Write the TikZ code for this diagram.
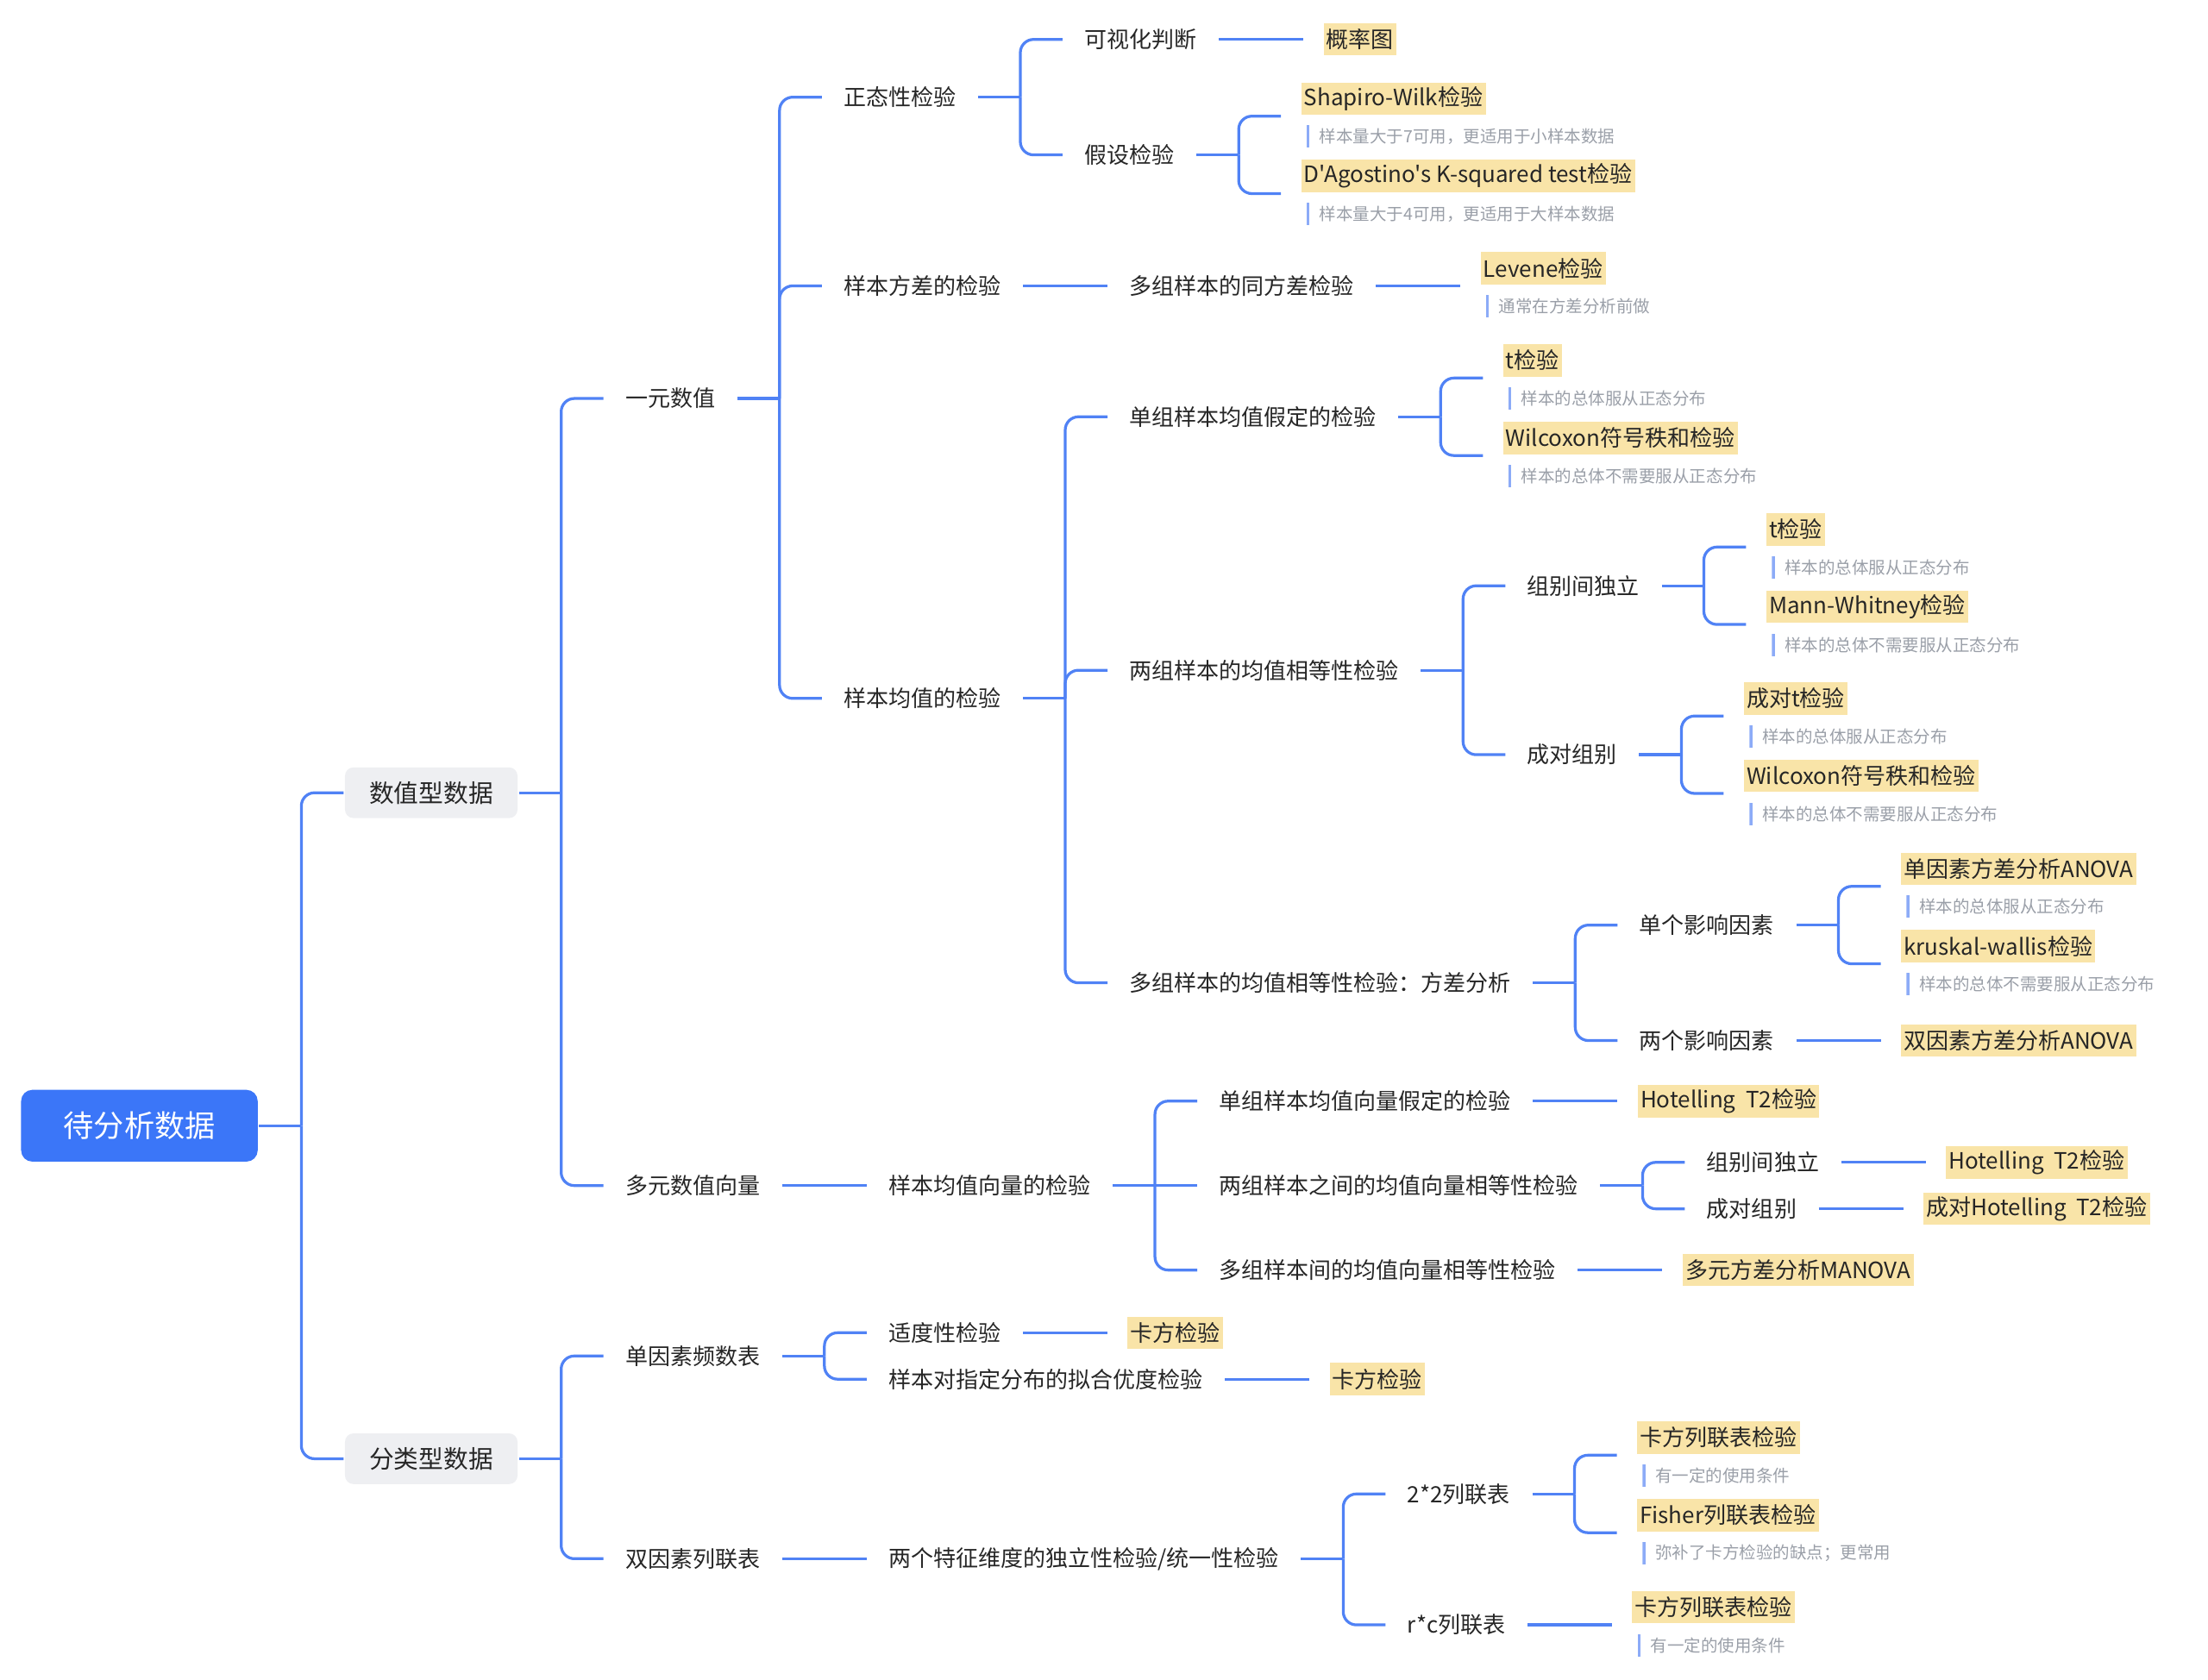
\documentclass[tikz,border=0pt]{standalone}
\usepackage{fontspec}
\setmainfont{Noto Sans CJK SC}[Ligatures=TeXOff]
\usetikzlibrary{positioning}
\definecolor{cmain}{HTML}{3B76F8}
\definecolor{cline}{HTML}{5082F5}
\definecolor{cgreybox}{HTML}{EEEFF2}
\definecolor{cmark}{HTML}{F9E4A8}
\definecolor{ctext}{HTML}{262626}
\definecolor{cnote}{HTML}{9A9FA8}
\definecolor{cbar}{HTML}{8CABF7}
\tikzset{
  every picture/.style={line width=1.7pt},
  rootbox/.style={fill=cmain, text=white, rounded corners=0.24cm, minimum width=5.04cm, minimum height=1.53cm, font=\fontsize{18.4}{22}\selectfont},
  groupbox/.style={fill=cgreybox, text=ctext, rounded corners=0.18cm, inner xsep=0.52cm, minimum height=1.08cm, font=\fontsize{15}{18}\selectfont},
  topic/.style={text=ctext, inner xsep=0pt, inner ysep=2pt, outer xsep=0.47cm, font=\fontsize{13.6}{16}\selectfont},
  method/.style={topic, fill=cmark, inner xsep=0.06cm, inner ysep=0pt, outer xsep=0.43cm, minimum height=0.69cm},
  remark/.style={anchor=north west, text=cnote, inner xsep=0.27cm, inner ysep=0pt, minimum height=0.48cm, font=\fontsize{10.2}{12}\selectfont,
    path picture={\fill[cbar] (path picture bounding box.north west) rectangle ([xshift=0.06cm]path picture bounding box.south west);}},
  link/.style={draw=cline, rounded corners=8pt},
}

\begin{document}
\begin{tikzpicture}
  \useasboundingbox (0,0) rectangle (47.04,-35.79);
  \node[rootbox] (root) at (2.97,-23.985) {待分析数据};
  \node[groupbox, right=1.8cm of root, yshift=7.095cm] (num) {数值型数据};
  \node[groupbox, right=1.8cm of root, yshift=-7.095cm] (cat) {分类型数据};

  % numeric data
  \node[topic, right=1.8cm of num, yshift=8.4cm] (uni) {一元数值};
  \node[topic, right=1.8cm of num, yshift=-8.37cm] (multi) {多元数值向量};

  \node[topic, right=1.8cm of uni, yshift=6.42cm] (norm) {正态性检验};
  \node[topic, right=1.8cm of uni, yshift=2.4cm] (var) {样本方差的检验};
  \node[topic, right=1.8cm of uni, yshift=-6.39cm] (mean) {样本均值的检验};

  \node[topic, right=1.8cm of norm, yshift=1.23cm] (vis) {可视化判断};
  \node[topic, right=1.8cm of norm, yshift=-1.23cm] (hyp) {假设检验};
  \node[method, right=1.8cm of vis] (prob) {概率图};
  \node[method, right=1.8cm of hyp, yshift=0.825cm, anchor=south west] (sw) {Shapiro-Wilk检验};
  \node[remark] (swn) at ([xshift=0.52cm, yshift=-0.165cm]sw.south west) {样本量大于7可用，更适用于小样本数据};
  \node[method, right=1.8cm of hyp, yshift=-0.825cm, anchor=south west] (dag) {D'Agostino's K-squared test检验};
  \node[remark] (dagn) at ([xshift=0.52cm, yshift=-0.165cm]dag.south west) {样本量大于4可用，更适用于大样本数据};

  \node[topic, right=1.8cm of var] (mvar) {多组样本的同方差检验};
  \node[method, right=1.8cm of mvar, anchor=south west] (lev) {Levene检验};
  \node[remark] (levn) at ([xshift=0.52cm, yshift=-0.165cm]lev.south west) {通常在方差分析前做};

  \node[topic, right=1.8cm of mean, yshift=6cm] (one) {单组样本均值假定的检验};
  \node[topic, right=1.8cm of mean, yshift=0.6cm] (two) {两组样本的均值相等性检验};
  \node[topic, right=1.8cm of mean, yshift=-6.06cm] (many) {多组样本的均值相等性检验：方差分析};

  \node[method, right=1.8cm of one, yshift=0.825cm, anchor=south west] (ta) {t检验};
  \node[remark] (tan) at ([xshift=0.52cm, yshift=-0.165cm]ta.south west) {样本的总体服从正态分布};
  \node[method, right=1.8cm of one, yshift=-0.825cm, anchor=south west] (wa) {Wilcoxon符号秩和检验};
  \node[remark] (wan) at ([xshift=0.52cm, yshift=-0.165cm]wa.south west) {样本的总体不需要服从正态分布};

  \node[topic, right=1.8cm of two, yshift=1.8cm] (ind) {组别间独立};
  \node[topic, right=1.8cm of two, yshift=-1.8cm] (pair) {成对组别};
  \node[method, right=1.8cm of ind, yshift=0.825cm, anchor=south west] (tb) {t检验};
  \node[remark] (tbn) at ([xshift=0.52cm, yshift=-0.165cm]tb.south west) {样本的总体服从正态分布};
  \node[method, right=1.8cm of ind, yshift=-0.825cm, anchor=south west] (mw) {Mann-Whitney检验};
  \node[remark] (mwn) at ([xshift=0.52cm, yshift=-0.165cm]mw.south west) {样本的总体不需要服从正态分布};
  \node[method, right=1.8cm of pair, yshift=0.825cm, anchor=south west] (pt) {成对t检验};
  \node[remark] (ptn) at ([xshift=0.52cm, yshift=-0.165cm]pt.south west) {样本的总体服从正态分布};
  \node[method, right=1.8cm of pair, yshift=-0.825cm, anchor=south west] (wb) {Wilcoxon符号秩和检验};
  \node[remark] (wbn) at ([xshift=0.52cm, yshift=-0.165cm]wb.south west) {样本的总体不需要服从正态分布};

  \node[topic, right=1.8cm of many, yshift=1.23cm] (single) {单个影响因素};
  \node[topic, right=1.8cm of many, yshift=-1.23cm] (double) {两个影响因素};
  \node[method, right=1.8cm of single, yshift=0.825cm, anchor=south west] (anoa) {单因素方差分析ANOVA};
  \node[remark] (anoan) at ([xshift=0.52cm, yshift=-0.165cm]anoa.south west) {样本的总体服从正态分布};
  \node[method, right=1.8cm of single, yshift=-0.825cm, anchor=south west] (kw) {kruskal-wallis检验};
  \node[remark] (kwn) at ([xshift=0.52cm, yshift=-0.165cm]kw.south west) {样本的总体不需要服从正态分布};
  \node[method, right=1.8cm of double] (anob) {双因素方差分析ANOVA};

  \node[topic, right=1.8cm of multi] (mvt) {样本均值向量的检验};
  \node[topic, right=1.8cm of mvt, yshift=1.8cm] (vone) {单组样本均值向量假定的检验};
  \node[topic, right=1.8cm of mvt] (vtwo) {两组样本之间的均值向量相等性检验};
  \node[topic, right=1.8cm of mvt, yshift=-1.8cm] (vmany) {多组样本间的均值向量相等性检验};
  \node[method, right=1.8cm of vone] (hota) {Hotelling\ \ T2检验};
  \node[topic, right=1.8cm of vtwo, yshift=0.495cm] (vind) {组别间独立};
  \node[topic, right=1.8cm of vtwo, yshift=-0.495cm] (vpair) {成对组别};
  \node[method, right=1.8cm of vind] (hotb) {Hotelling\ \ T2检验};
  \node[method, right=1.8cm of vpair] (hotc) {成对Hotelling\ \ T2检验};
  \node[method, right=1.8cm of vmany] (manova) {多元方差分析MANOVA};

  % categorical data
  \node[topic, right=1.8cm of cat, yshift=2.19cm] (freq) {单因素频数表};
  \node[topic, right=1.8cm of cat, yshift=-2.13cm] (cont) {双因素列联表};

  \node[topic, right=1.8cm of freq, yshift=0.495cm] (fit) {适度性检验};
  \node[topic, right=1.8cm of freq, yshift=-0.495cm] (gof) {样本对指定分布的拟合优度检验};
  \node[method, right=1.8cm of fit] (chia) {卡方检验};
  \node[method, right=1.8cm of gof] (chib) {卡方检验};

  \node[topic, right=1.8cm of cont] (indep) {两个特征维度的独立性检验/统一性检验};
  \node[topic, right=1.8cm of indep, yshift=1.38cm] (tt) {2*2列联表};
  \node[topic, right=1.8cm of indep, yshift=-1.41cm] (rc) {r*c列联表};
  \node[method, right=1.8cm of tt, yshift=0.825cm, anchor=south west] (cta) {卡方列联表检验};
  \node[remark] (ctan) at ([xshift=0.52cm, yshift=-0.165cm]cta.south west) {有一定的使用条件};
  \node[method, right=1.8cm of tt, yshift=-0.825cm, anchor=south west] (fis) {Fisher列联表检验};
  \node[remark] (fisn) at ([xshift=0.52cm, yshift=-0.165cm]fis.south west) {弥补了卡方检验的缺点；更常用};
  \node[method, right=1.8cm of rc, anchor=south west] (ctb) {卡方列联表检验};
  \node[remark] (ctbn) at ([xshift=0.52cm, yshift=-0.165cm]ctb.south west) {有一定的使用条件};

  % branches
  \draw[link] (root.east) -- ++(0.9,0);
  \foreach \c in {num,cat} \draw[link] ([xshift=0.9cm]root.east) |- (\c.west);
  \draw[link] (num.east) -- ++(0.9,0);
  \foreach \c in {uni,multi} \draw[link] ([xshift=0.9cm]num.east) |- (\c.west);
  \draw[link] (uni.east) -- ++(0.9,0);
  \foreach \c in {norm,var,mean} \draw[link] ([xshift=0.9cm]uni.east) |- (\c.west);
  \draw[link] (norm.east) -- ++(0.9,0);
  \foreach \c in {vis,hyp} \draw[link] ([xshift=0.9cm]norm.east) |- (\c.west);
  \draw[link] (vis.east) -- (prob.west);
  \draw[link] (hyp.east) -- ++(0.9,0);
  \foreach \c in {sw,dag} \draw[link] ([xshift=0.9cm]hyp.east) |- (\c.south west);
  \draw[link] (var.east) -- (mvar.west);
  \draw[link] (mvar.east) -- (lev.south west);
  \draw[link] (mean.east) -- ++(0.9,0);
  \foreach \c in {one,two,many} \draw[link] ([xshift=0.9cm]mean.east) |- (\c.west);
  \draw[link] (one.east) -- ++(0.9,0);
  \foreach \c in {ta,wa} \draw[link] ([xshift=0.9cm]one.east) |- (\c.south west);
  \draw[link] (two.east) -- ++(0.9,0);
  \foreach \c in {ind,pair} \draw[link] ([xshift=0.9cm]two.east) |- (\c.west);
  \draw[link] (ind.east) -- ++(0.9,0);
  \foreach \c in {tb,mw} \draw[link] ([xshift=0.9cm]ind.east) |- (\c.south west);
  \draw[link] (pair.east) -- ++(0.9,0);
  \foreach \c in {pt,wb} \draw[link] ([xshift=0.9cm]pair.east) |- (\c.south west);
  \draw[link] (many.east) -- ++(0.9,0);
  \foreach \c in {single,double} \draw[link] ([xshift=0.9cm]many.east) |- (\c.west);
  \draw[link] (single.east) -- ++(0.9,0);
  \foreach \c in {anoa,kw} \draw[link] ([xshift=0.9cm]single.east) |- (\c.south west);
  \draw[link] (double.east) -- (anob.west);
  \draw[link] (multi.east) -- (mvt.west);
  \draw[link] (mvt.east) -- (vtwo.west);
  \foreach \c in {vone,vmany} \draw[link] ([xshift=0.9cm]mvt.east) |- (\c.west);
  \draw[link] (vone.east) -- (hota.west);
  \draw[link] (vtwo.east) -- ++(0.9,0);
  \foreach \c in {vind,vpair} \draw[link] ([xshift=0.9cm]vtwo.east) |- (\c.west);
  \draw[link] (vind.east) -- (hotb.west);
  \draw[link] (vpair.east) -- (hotc.west);
  \draw[link] (vmany.east) -- (manova.west);
  \draw[link] (cat.east) -- ++(0.9,0);
  \foreach \c in {freq,cont} \draw[link] ([xshift=0.9cm]cat.east) |- (\c.west);
  \draw[link] (freq.east) -- ++(0.9,0);
  \foreach \c in {fit,gof} \draw[link] ([xshift=0.9cm]freq.east) |- (\c.west);
  \draw[link] (fit.east) -- (chia.west);
  \draw[link] (gof.east) -- (chib.west);
  \draw[link] (cont.east) -- (indep.west);
  \draw[link] (indep.east) -- ++(0.9,0);
  \foreach \c in {tt,rc} \draw[link] ([xshift=0.9cm]indep.east) |- (\c.west);
  \draw[link] (tt.east) -- ++(0.9,0);
  \foreach \c in {cta,fis} \draw[link] ([xshift=0.9cm]tt.east) |- (\c.south west);
  \draw[link] (rc.east) -- (ctb.south west);
\end{tikzpicture}
\end{document}
